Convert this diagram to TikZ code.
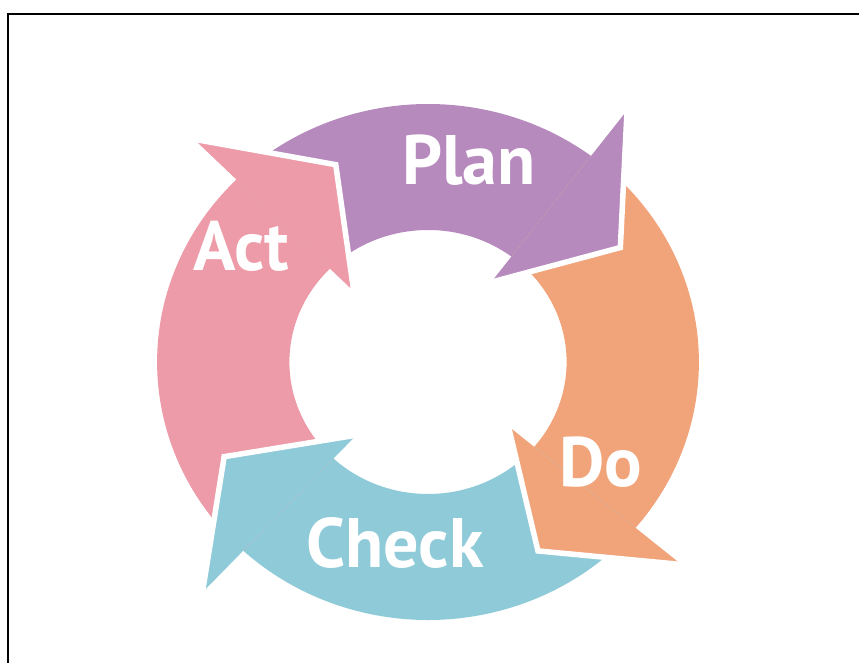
\documentclass[tikz,border=0pt]{standalone}
\usepackage{fontspec}
\setmainfont{PT Sans}
\definecolor{planc}{RGB}{183,138,190}
\definecolor{doc}{RGB}{241,163,122}
\definecolor{checkc}{RGB}{143,202,216}
\definecolor{actc}{RGB}{237,155,168}
\tikzset{
  lbl/.style={text=white, inner sep=0pt, font=\fontsize{70}{84}\selectfont\bfseries},
  gapline/.style={draw=white, line width=5.5pt, line join=miter},
  frameline/.style={draw=black, line width=2.5pt}
}
\newcommand{\Rout}{258}
\newcommand{\Rin}{132}
% body: colour, start angle, end angle
\newcommand{\arrowbody}[3]{%
  \fill[#1] (#2:\Rout) arc[start angle=#2, end angle=#3, radius=\Rout]
    -- (#3:\Rin) arc[start angle=#3, end angle=#2, radius=\Rin] -- cycle;}
% head: colour, base angle
\newcommand{\arrowhead}[2]{%
  \fill[#1] (#2:315) -- ({#2-21}:216) -- (#2:100) -- cycle;
  \draw[gapline] (#2:315) -- ({#2-21}:216) -- (#2:100);}
\begin{document}
\begin{tikzpicture}[x=1pt, y=1pt]
\useasboundingbox (0,-663) rectangle (859,0);
\fill[white] (0,-663) rectangle (859,0);
\draw[frameline] (8,-663) -- (8,-14) -- (859,-14);
\begin{scope}[shift={(428,-362)}, xscale=1.05]
  \arrowbody{planc}{135}{53}
  \arrowbody{doc}{53}{-40}
  \arrowbody{checkc}{-40}{-133}
  \arrowbody{actc}{227}{135}
  \arrowhead{planc}{53}
  \arrowhead{doc}{-40}
  \arrowhead{checkc}{-133}
  \arrowhead{actc}{135}
\end{scope}
\node[lbl] (plan) at (469,-160) {Plan};
\node[lbl] (do) at (601,-462) {Do};
\node[lbl] (check) at (395,-543) {Check};
\node[lbl] (act) at (241,-246) {Act};
\end{tikzpicture}
\end{document}
